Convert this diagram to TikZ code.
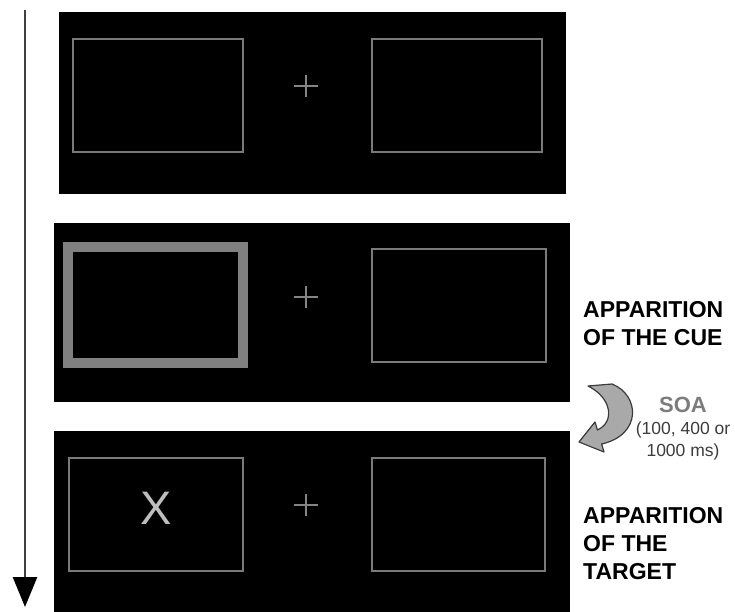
\documentclass[tikz,border=0pt]{standalone}
\usepackage{fontspec}
\setmainfont{Liberation Sans}
\usepackage{xcolor}
\usepackage{tikz}
\usetikzlibrary{arrows.meta}

\definecolor{framegray}{HTML}{7A7A7A}
\definecolor{cuegray}{HTML}{808080}
\definecolor{fixgray}{HTML}{858585}
\definecolor{xgray}{HTML}{BEBEBE}
\definecolor{soagray}{HTML}{7C7C7C}
\definecolor{notegray}{HTML}{3C3C3C}
\definecolor{bendfill}{HTML}{A9A9A9}
\definecolor{bendline}{HTML}{3A3A3A}
\definecolor{timeline}{HTML}{404040}

\begin{document}
\begin{tikzpicture}[
    x=1pt, y=-1pt,
    panel/.style={fill=black, inner sep=0pt, outer sep=0pt},
    frame/.style={draw=framegray, line width=2pt, inner sep=0pt},
    cueframe/.style={draw=cuegray, line width=10pt, inner sep=0pt},
    fixation/.style={draw=fixgray, line width=2pt},
    label/.style={font=\fontsize{23}{28}\selectfont\bfseries, align=left,
                  anchor=north west, inner sep=0pt},
    timearrow/.style={-{Triangle[length=30pt, width=24pt, color=black]},
                      draw=timeline, line width=2.6pt}
]
    \useasboundingbox (0,0) rectangle (735,612);

    % -- trial 1 : fixation display --
    \node[panel, minimum width=507pt, minimum height=182pt] (trialA) at (312.5,103) {};
    \node[frame, minimum width=170pt, minimum height=113pt] (leftA) at (158,95.5) {};
    \node[frame, minimum width=170pt, minimum height=113pt] (rightA) at (457,95.5) {};
    \coordinate (fixA) at (306,86);
    \draw[fixation] (fixA) +(-12,0) -- +(12,0) (fixA) +(0,-11) -- +(0,11);

    % -- trial 2 : cue --
    \node[panel, minimum width=516pt, minimum height=179pt] (trialB) at (312,312.5) {};
    \node[cueframe, minimum width=175pt, minimum height=116pt] (leftB) at (155,304.5) {};
    \node[frame, minimum width=174pt, minimum height=113pt] (rightB) at (459,305.5) {};
    \coordinate (fixB) at (306,297);
    \draw[fixation] (fixB) +(-12,0) -- +(12,0) (fixB) +(0,-11) -- +(0,11);

    % -- trial 3 : target --
    \node[panel, minimum width=516pt, minimum height=181pt] (trialC) at (312,521.5) {};
    \node[frame, minimum width=174pt, minimum height=113pt] (leftC) at (156,514.5) {};
    \node[frame, minimum width=173pt, minimum height=113pt] (rightC) at (458.5,514.5) {};
    \node[text=xgray, font=\fontsize{47}{47}\selectfont, inner sep=0pt] (target) at (156,508) {X};
    \coordinate (fixC) at (306,505);
    \draw[fixation] (fixC) +(-12,0) -- +(12,0) (fixC) +(0,-11) -- +(0,11);

    % -- time axis --
    \coordinate (tstart) at (25,10);
    \coordinate (tend) at (25,607);
    \draw[timearrow] (tstart) -- (tend);

    % -- labels --
    \node[label] (cuelabel) at (583,301) {APPARITION\\OF THE CUE};
    \node[label] (targetlabel) at (583,507) {APPARITION\\OF THE\\TARGET};
    \node[align=center, anchor=north, inner sep=0pt, text=notegray,
          font=\fontsize{17.5}{22}\selectfont] (soa) at (683,397)
        {{\fontsize{22}{22}\selectfont\bfseries\color{soagray}SOA}\\(100, 400 or\\1000 ms)};

    % -- bent arrow between cue and target --
    \draw[fill=bendfill, draw=bendline, line width=1.2pt, line join=round]
        (588,386) -- (612,384)
        .. controls (640,395) and (642,435) .. (601.6,444)
        -- (604,452) -- (579,442) -- (595,422) -- (597.4,430)
        .. controls (615,422) and (612,398) .. cycle;
\end{tikzpicture}
\end{document}
